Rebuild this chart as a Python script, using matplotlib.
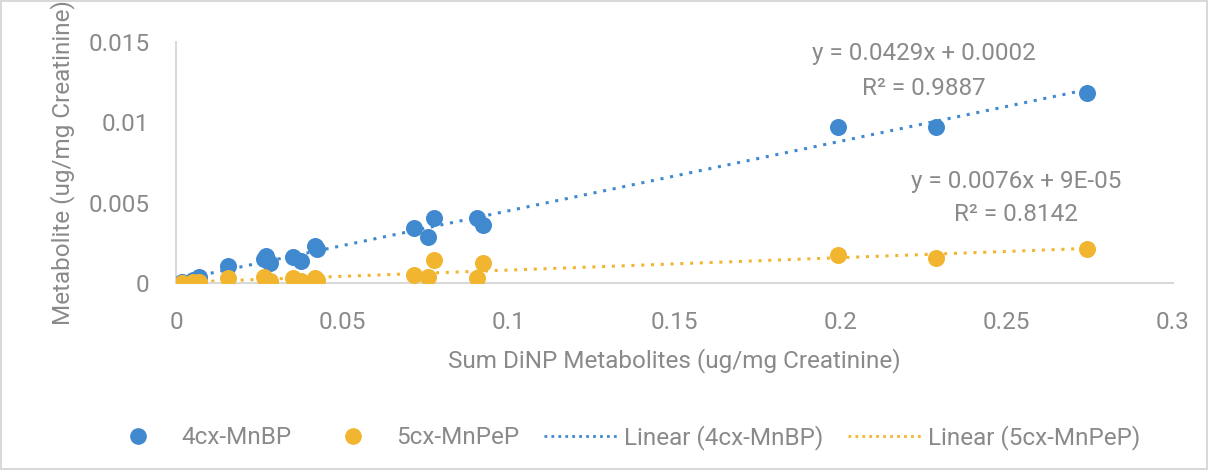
import numpy as np
import matplotlib.pyplot as plt
from matplotlib.lines import Line2D

# --- DANE ---
sum_dinp = [0.0018, 0.0051, 0.0069, 0.0156, 0.0265, 0.0270, 0.0283, 0.0352, 0.0376,
            0.0418, 0.0424, 0.0716, 0.0758, 0.0776, 0.0906, 0.0924, 0.1992, 0.2287, 0.2741]
cx4_mnbp = [0.00006, 0.0002, 0.00037, 0.00106, 0.0015, 0.0017, 0.00124, 0.0016, 0.00137,
            0.0023, 0.0021, 0.00342, 0.00286, 0.00405, 0.00405, 0.0036, 0.0097, 0.0097, 0.0118]
cx5_mnpep = [0.00002, 0.00003, 0.00005, 0.0003, 0.00037, 0.0001, 0.0001, 0.0003, 0.0001,
             0.0003, 0.0002, 0.0005, 0.00037, 0.00143, 0.0003, 0.00124, 0.00174, 0.00156, 0.00212]

x_ticks = [0, 0.05, 0.1, 0.15, 0.2, 0.25, 0.3]
x_tick_labels = ['0', '0.05', '0.1', '0.15', '0.2', '0.25', '0.3']
y_ticks = [0, 0.005, 0.01, 0.015]
y_tick_labels = ['0', '0.005', '0.01', '0.015']

eq_blue = ['y = 0.0429x + 0.0002', 'R² = 0.9887']
eq_orange = ['y = 0.0076x + 9E-05', 'R² = 0.8142']

BLUE = '#4189CE'
ORANGE = '#F2B530'
GREY = '#8A8A8A'
AXIS = '#D9D9D9'
FS = 17.5

plt.rcParams['font.family'] = ['Roboto', 'DejaVu Sans']

fig = plt.figure(figsize=(12.08, 4.70), dpi=100)
fig.patch.set_edgecolor(AXIS)
fig.patch.set_linewidth(1.5)
ax = fig.add_axes([0.1457, 0.398, 0.9710 - 0.1457, 0.9106 - 0.398])

# punkty
ax.scatter(sum_dinp, cx4_mnbp, s=150, color=BLUE, zorder=3, linewidths=0)
ax.scatter(sum_dinp, cx5_mnpep, s=150, color=ORANGE, zorder=3, linewidths=0)

# linie trendu
xs = np.array([min(sum_dinp), max(sum_dinp)])
for ys, col in [(cx4_mnbp, BLUE), (cx5_mnpep, ORANGE)]:
    a, b = np.polyfit(sum_dinp, ys, 1)
    ax.plot(xs, a * xs + b, color=col, linestyle=(0, (1, 2.2)), linewidth=2.2, zorder=2)

ax.set_xlim(0, 0.3)
ax.set_ylim(0, 0.015)
ax.set_xticks(x_ticks)
ax.set_xticklabels(x_tick_labels)
ax.set_yticks(y_ticks)
ax.set_yticklabels(y_tick_labels)
ax.tick_params(length=0, labelsize=FS, colors=GREY)
ax.tick_params(axis='x', pad=20)
ax.tick_params(axis='y', pad=19)

for s in ['top', 'right']:
    ax.spines[s].set_visible(False)
for s in ['left', 'bottom']:
    ax.spines[s].set_color(AXIS)
    ax.spines[s].set_linewidth(1.5)

ax.set_xlabel('Sum DiNP Metabolites (ug/mg Creatinine)', fontsize=FS, color=GREY, labelpad=10)
ax.set_ylabel('Metabolite (ug/mg Creatinine)', fontsize=FS, color=GREY, labelpad=10)

# równania
ax.text(0.2251, 0.01431, eq_blue[0], ha='center', va='center', fontsize=FS, color=GREY)
ax.text(0.2251, 0.0121, eq_blue[1], ha='center', va='center', fontsize=FS, color=GREY)
ax.text(0.2528, 0.00629, eq_orange[0], ha='center', va='center', fontsize=FS, color=GREY)
ax.text(0.2528, 0.00429, eq_orange[1], ha='center', va='center', fontsize=FS, color=GREY)

# legenda
handles = [
    Line2D([], [], marker='o', linestyle='none', color=BLUE, markersize=11),
    Line2D([], [], marker='o', linestyle='none', color=ORANGE, markersize=11),
    Line2D([], [], color=BLUE, linestyle=(0, (1, 1.5)), linewidth=2),
    Line2D([], [], color=ORANGE, linestyle=(0, (1, 1.5)), linewidth=2),
]
labels = ['4cx-MnBP', '5cx-MnPeP', 'Linear (4cx-MnBP)', 'Linear (5cx-MnPeP)']
leg = fig.legend(handles, labels, loc='center', bbox_to_anchor=(0.514, 0.07), ncol=4,
                 frameon=False, fontsize=FS, handlelength=3.0, columnspacing=1.0,
                 handletextpad=0.3)
for t in leg.get_texts():
    t.set_color(GREY)

fig.savefig('out.png', dpi=100, edgecolor=fig.get_edgecolor())
